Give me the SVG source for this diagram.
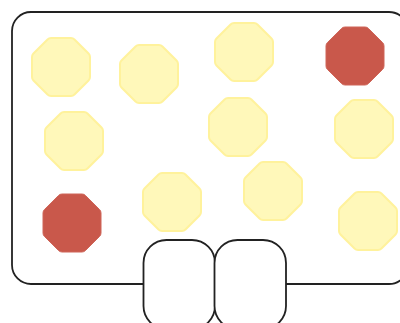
<svg xmlns="http://www.w3.org/2000/svg" width="400" height="323" viewBox="0 0 400 323">
  <style>
    .frame { fill: #ffffff; stroke: #222222; stroke-width: 1.8; }
    .yel { fill: #FFF8BA; stroke: #FFF29C; stroke-width: 2; }
    .red { fill: #C9584B; stroke: #CF6558; stroke-width: 1; }
  </style>
  <defs>
    <path id="oct" d="M -9.94,-29 H 9.94 A5 5 0 0 1 13.48,-27.54 L 27.54,-13.48 A5 5 0 0 1 29,-9.94 V 9.94 A5 5 0 0 1 27.54,13.48 L 13.48,27.54 A5 5 0 0 1 9.94,29 H -9.94 A5 5 0 0 1 -13.48,27.54 L -27.54,13.48 A5 5 0 0 1 -29,9.94 V -9.94 A5 5 0 0 1 -27.54,-13.48 L -13.48,-27.54 A5 5 0 0 1 -9.94,-29 Z"/>
  </defs>
  <rect width="400" height="323" fill="#ffffff"/>
  <g id="board">
    <rect class="frame" x="12" y="12" width="396" height="272" rx="19"/>
  </g>
  <g id="tab-left">
    <rect class="frame" x="143.5" y="240" width="71.5" height="89" rx="23"/>
  </g>
  <g id="tab-right">
    <rect class="frame" x="214.5" y="240" width="71.5" height="89" rx="23"/>
  </g>
  <g id="oct-1"><use href="#oct" class="yel" x="61" y="67"/></g>
  <g id="oct-2"><use href="#oct" class="yel" x="149" y="74"/></g>
  <g id="oct-3"><use href="#oct" class="yel" x="74" y="141"/></g>
  <g id="oct-4"><use href="#oct" class="yel" x="244" y="52"/></g>
  <g id="oct-5"><use href="#oct" class="red" x="355" y="56"/></g>
  <g id="oct-6"><use href="#oct" class="yel" x="238" y="127"/></g>
  <g id="oct-7"><use href="#oct" class="yel" x="364" y="129"/></g>
  <g id="oct-8"><use href="#oct" class="red" x="72" y="223"/></g>
  <g id="oct-9"><use href="#oct" class="yel" x="172" y="202"/></g>
  <g id="oct-10"><use href="#oct" class="yel" x="273" y="191"/></g>
  <g id="oct-11"><use href="#oct" class="yel" x="368" y="221"/></g>
</svg>
